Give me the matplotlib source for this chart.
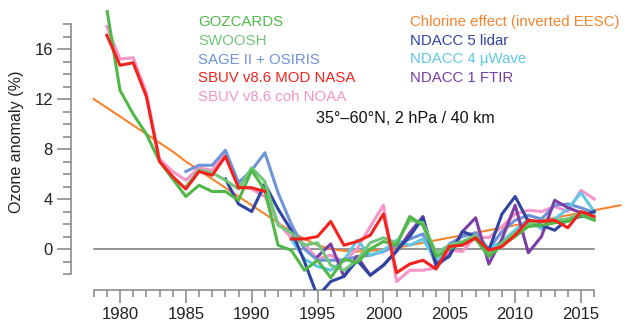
import numpy as np
import matplotlib
matplotlib.use('Agg')
import matplotlib.pyplot as plt

plt.rcParams['font.family'] = ['Liberation Sans', 'DejaVu Sans']

nan = np.nan

# ---------------- data ----------------
years = list(range(1979, 2017))  # 1979..2016

gozcards = [19.2, 12.7, 10.8, 9.2, 7.0, 5.6, 4.2, 5.1, 4.6, 4.6,
            3.9, 6.3, 4.7, 0.3, -0.1, -1.7, -0.9, -2.3, -0.8, -1.1,
            0.0, 0.6, 0.3, 2.6, 1.9, -0.6, 0.0, 0.5, 0.8, -0.6,
            0.3, 1.0, 1.8, 1.9, 2.1, 2.2, 2.7, 2.3]

swoosh = [nan, nan, nan, nan, nan, nan, 5.0, 6.3, 6.1, 5.5,
          4.8, 6.5, 5.4, 1.9, 1.3, 0.3, 0.5, -1.3, -1.7, -0.9,
          0.5, 0.9, 0.5, 2.3, 2.1, -0.3, 0.3, 0.6, 1.1, -0.4,
          0.5, 1.3, 2.0, 2.2, 2.3, 2.4, 2.9, 2.4]

sage_osiris = [nan, nan, nan, nan, nan, nan, 6.2, 6.7, 6.7, 7.9,
               5.3, 6.3, 7.7, 4.5, 2.0, 0.0, -0.9, -0.9, -0.9, -0.6,
               -0.5, -0.2, 0.3, 0.8, 1.2, -1.2, 0.4, 1.0, 1.3, 0.0,
               1.4, 2.3, 2.7, 2.4, 3.5, 3.6, 3.3, 2.9]

sbuv_nasa = [17.1, 14.7, 14.9, 12.2, 7.0, 5.8, 4.8, 6.2, 5.9, 7.4,
             4.9, 4.9, 4.6, nan, 0.8, 0.8, 1.0, 2.2, 0.3, 0.6,
             1.1, 2.8, -1.9, -1.2, -0.9, -1.6, 0.2, 0.3, 0.9, -0.1,
             0.2, 1.1, 2.3, 2.2, 2.3, 1.7, 3.0, 2.6]

sbuv_noaa = [17.8, 15.2, 15.3, 12.5, 7.2, 6.2, 5.5, 6.5, 6.3, 7.6,
             5.2, 4.8, 4.2, 2.1, 0.9, 0.4, -0.8, -0.5, -1.0, 0.0,
             1.8, 3.5, -2.6, -1.7, -1.7, -1.5, -0.1, -0.2, 1.0, 0.9,
             1.8, 2.8, 3.1, 3.0, 3.4, 3.0, 4.7, 4.0]

eesc_years = list(range(1978, 2019))
chlorine = [12.0, 11.3, 10.6, 9.9, 9.2, 8.5, 7.8, 7.0, 6.3, 5.6,
            4.9, 4.2, 3.5, 2.8, 2.1, 1.4, 0.8, 0.3, 0.0, -0.15,
            -0.2, -0.15, -0.05, 0.1, 0.3, 0.5, 0.7, 0.9, 1.1, 1.3,
            1.5, 1.7, 1.9, 2.1, 2.3, 2.5, 2.7, 2.9, 3.1, 3.3, 3.5]

lidar = [nan, nan, nan, nan, nan, nan, nan, nan, nan, 5.6,
         3.6, 3.0, 5.2, 3.2, 1.5, -1.0, -3.8, -2.6, -2.2, -0.9,
         -2.1, -1.3, -0.1, 1.0, 2.5, -1.2, -0.6, 1.4, 1.0, -0.1,
         2.8, 4.2, 2.2, 1.9, 1.5, 2.4, 2.6, 3.0]

mwave = [nan, nan, nan, nan, nan, nan, nan, nan, nan, nan,
         nan, nan, nan, nan, 0.8, -0.8, -1.4, -1.7, -0.9, 0.7,
         -0.5, -0.1, 0.7, 0.3, 0.8, -1.0, 0.2, 0.5, 1.0, 0.0,
         0.6, 1.5, 2.4, 1.6, 2.4, 3.2, 4.5, 3.0]

ftir = [nan, nan, nan, nan, nan, nan, nan, nan, nan, nan,
        nan, nan, nan, nan, nan, nan, -0.6, 0.4, -2.2, -0.6,
        -2.1, -1.3, -0.2, 1.3, 2.6, -1.4, -0.5, 1.4, 2.5, -1.2,
        0.8, 3.5, -0.3, 1.0, 3.9, 3.3, 2.9, 2.4]

left_labels = ['GOZCARDS', 'SWOOSH', 'SAGE II + OSIRIS',
               'SBUV v8.6 MOD NASA', 'SBUV v8.6 coh NOAA']
right_labels = ['Chlorine effect (inverted EESC)', 'NDACC 5 lidar',
                'NDACC 4 \u00b5Wave', 'NDACC 1 FTIR']

# ---------------- style ----------------
c_goz = '#4fb848'
c_swo = '#72c77a'
c_sage = '#6e93d8'
c_nasa = '#f2231d'
c_noaa = '#f595c8'
c_cl = '#f6842e'
c_lid = '#2f44a3'
c_mw = '#5fc8e6'
c_ftir = '#7a3ea6'
gray = '#8c8c8c'

W, H = 632, 321
fig = plt.figure(figsize=(W / 100, H / 100), dpi=100)
ax = fig.add_axes([71 / W, 1 - 290 / H, (625 - 71) / W, (290 - 10) / H])
ax.set_xlim(1976.28, 2018.34)
ax.set_ylim(-3.28, 19.12)

ax.plot([1978, 2016], [0, 0], color=gray, lw=1.3, zorder=1)
ax.plot(eesc_years, chlorine, color=c_cl, lw=1.5, zorder=2)

lw = 2.2
ax.plot(years, sbuv_noaa, color=c_noaa, lw=lw, zorder=3)
ax.plot(years, sage_osiris, color=c_sage, lw=lw, zorder=3)
ax.plot(years, mwave, color=c_mw, lw=lw, zorder=3)
ax.plot(years, ftir, color=c_ftir, lw=lw, zorder=3)
ax.plot(years, lidar, color=c_lid, lw=lw, zorder=3)
ax.plot(years, swoosh, color=c_swo, lw=lw, zorder=3)
ax.plot(years, gozcards, color=c_goz, lw=lw, zorder=3)
ax.plot(years, sbuv_nasa, color=c_nasa, lw=lw, zorder=4)

for s in ['top', 'right']:
    ax.spines[s].set_visible(False)
for s in ['left', 'bottom']:
    ax.spines[s].set_color(gray)
    ax.spines[s].set_linewidth(1.2)
ax.spines['left'].set_bounds(-2, 18)
ax.spines['bottom'].set_bounds(1978, 2016)

ax.set_yticks([0, 4, 8, 12, 16])
ax.set_yticks(list(range(-2, 19)), minor=True)
ax.set_xticks([1980, 1985, 1990, 1995, 2000, 2005, 2010, 2015])
ax.set_xticks(list(range(1978, 2017)), minor=True)

ax.tick_params(axis='y', which='major', length=10, width=1.2, color=gray,
               labelsize=12, pad=3)
ax.tick_params(axis='y', which='minor', length=5.5, width=1.2, color=gray)
ax.tick_params(axis='x', which='major', length=9, width=1.2, color=gray,
               labelsize=12, pad=3)
ax.tick_params(axis='x', which='minor', length=5, width=1.2, color=gray)
for lab in ax.get_xticklabels() + ax.get_yticklabels():
    lab.set_color('#222222')

fig.text(17 / W, 1 - 142 / H, 'Ozone anomaly (%)', rotation=90,
         ha='center', va='center', fontsize=11.6, color='#222222')

left_colors = [c_goz, c_swo, c_sage, c_nasa, c_noaa]
right_colors = [c_cl, c_lid, c_mw, c_ftir]
ys = [22, 41, 59.5, 78, 97]
for lab, col, yy in zip(left_labels, left_colors, ys):
    fig.text(198 / W, 1 - yy / H, lab, color=col, fontsize=10.8,
             ha='left', va='center')
for lab, col, yy in zip(right_labels, right_colors, ys):
    fig.text(410 / W, 1 - yy / H, lab, color=col, fontsize=10.8,
             ha='left', va='center')

fig.text(316 / W, 1 - 119 / H, '35\u00b0\u201360\u00b0N, 2 hPa / 40 km',
         color='#111111', fontsize=11.6, ha='left', va='center')

fig.savefig('out.png', dpi=100)
